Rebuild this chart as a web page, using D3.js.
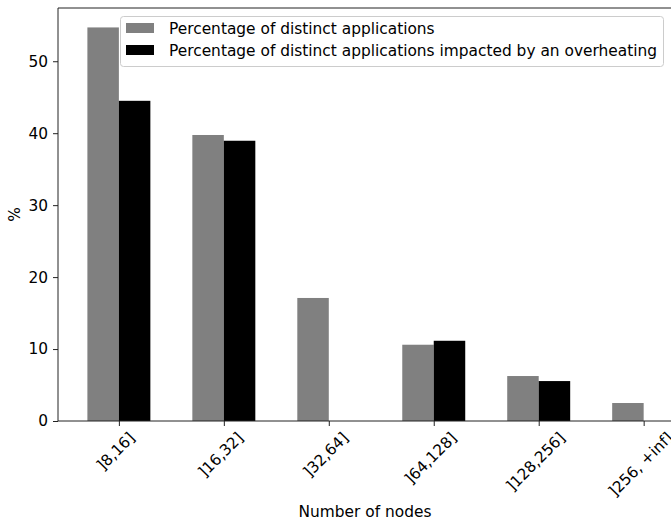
<!DOCTYPE html>
<html>
<head>
<meta charset="utf-8">
<script src="https://cdn.jsdelivr.net/npm/d3@7"></script>
<style>
  body { margin: 0; background: #fff; }
  svg { display: block; font-family: "DejaVu Sans", sans-serif; }
</style>
</head>
<body>
<div id="chart"></div>
<script>
  // values
  const categories = ["]8,16]", "]16,32]", "]32,64]", "]64,128]", "]128,256]", "]256, +inf]"];
  const distinctPct = [54.7, 39.75, 17.1, 10.6, 6.25, 2.5];
  const overheatPct = [44.5, 38.95, 0, 11.15, 5.55, 0];
  const yTicks = [0, 10, 20, 30, 40, 50];
  const seriesNames = [
    "Percentage of distinct applications",
    "Percentage of distinct applications impacted by an overheating"
  ];
  const seriesColors = ["#808080", "#000000"];

  (function() {
    const width = 671, height = 521;
    const pLeft = 58, pRight = 672, pTop = 8, pBottom = 421;
    const barW = 0.3;
    const fs = 15.4;

    const svg = d3.select("#chart").append("svg")
      .attr("width", width)
      .attr("height", height);

    const x = d3.scaleLinear().domain([-0.58, 5.27]).range([pLeft, pRight]);
    const y = d3.scaleLinear().domain([0, 57.4]).range([pBottom, pTop]);

    const series = [distinctPct, overheatPct];

    // bars: grey to the left of the tick, black to the right
    series.forEach((vals, s) => {
      svg.append("g")
        .selectAll("rect")
        .data(vals)
        .enter()
        .append("rect")
        .attr("x", (d, i) => x(i + (s === 0 ? -barW : 0)))
        .attr("y", d => y(d))
        .attr("width", x(barW) - x(0))
        .attr("height", d => y(0) - y(d))
        .attr("fill", seriesColors[s]);
    });

    // y axis
    const yAxis = svg.append("g")
      .attr("transform", `translate(${pLeft},0)`)
      .call(d3.axisLeft(y).tickValues(yTicks).tickSize(5).tickPadding(5));
    yAxis.select(".domain").remove();
    yAxis.selectAll("line").attr("stroke", "#222");
    yAxis.selectAll("text").attr("font-size", fs).attr("fill", "#000")
      .style("font-family", "DejaVu Sans");

    // x axis ticks
    const xAxis = svg.append("g")
      .attr("transform", `translate(0,${pBottom})`)
      .call(d3.axisBottom(x).tickValues(d3.range(categories.length)).tickSize(5).tickFormat(""));
    xAxis.select(".domain").remove();
    xAxis.selectAll("line").attr("stroke", "#222");

    // rotated tick labels, bbox centred on tick like matplotlib
    const labels = svg.append("g");
    categories.forEach((c, i) => {
      const t = labels.append("text")
        .attr("font-size", fs)
        .attr("text-anchor", "middle")
        .attr("dominant-baseline", "central")
        .text(c);
      const w = t.node().getComputedTextLength();
      const h = fs * 0.95;
      const cy = pBottom + 5 + 4 + (w + h) * Math.SQRT1_2 / 2;
      t.attr("transform", `translate(${x(i) - 3},${cy}) rotate(-45)`);
    });

    // spines
    svg.append("path")
      .attr("d", `M${pLeft},${pBottom}V${pTop}H${pRight}V${pBottom}Z`)
      .attr("fill", "none")
      .attr("stroke", "#222")
      .attr("stroke-width", 1);

    // axis labels
    svg.append("text")
      .attr("x", (pLeft + pRight) / 2)
      .attr("y", 517)
      .attr("text-anchor", "middle")
      .attr("font-size", fs)
      .text("Number of nodes");

    svg.append("text")
      .attr("transform", `translate(20,${(pTop + pBottom) / 2}) rotate(-90)`)
      .attr("text-anchor", "middle")
      .attr("font-size", fs)
      .text("%");

    // legend
    const lg = svg.append("g").attr("transform", "translate(120.5,16.5)");
    lg.append("rect")
      .attr("width", 543)
      .attr("height", 50)
      .attr("rx", 3)
      .attr("fill", "rgba(255,255,255,0.8)")
      .attr("stroke", "#ccc");
    seriesNames.forEach((name, s) => {
      lg.append("rect")
        .attr("x", 5.5)
        .attr("y", 6.5 + s * 22)
        .attr("width", 28)
        .attr("height", 10)
        .attr("fill", seriesColors[s]);
      lg.append("text")
        .attr("x", 48.5)
        .attr("y", 17 + s * 22)
        .attr("font-size", fs)
        .text(name);
    });
  })();
</script>
</body>
</html>
